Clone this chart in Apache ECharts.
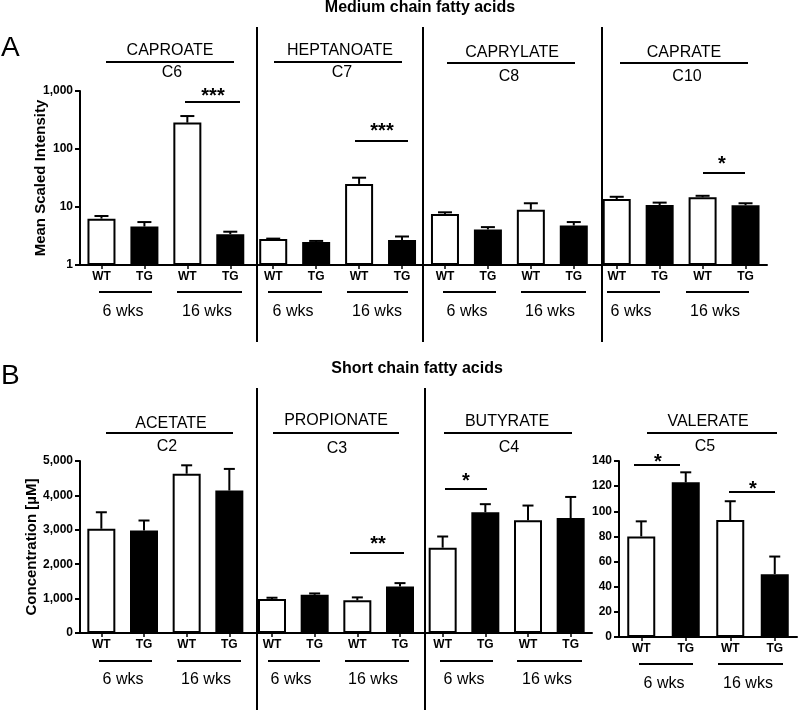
<!DOCTYPE html>
<html><head><meta charset="utf-8">
<script src="https://cdn.jsdelivr.net/npm/echarts@6/dist/echarts.min.js"></script>
<style>html,body{margin:0;padding:0;background:#fff}#c{width:800px;height:712px}</style>
</head><body><div id="c"></div>
<script>
// ---------- DATA ----------
// Panel A: medium chain fatty acids (C6, C7, C8, C10), each WT/TG at 6 wks and 16 wks
const catsA = ['WT','TG','WT','TG','WT','TG','WT','TG','WT','TG','WT','TG','WT','TG','WT','TG'];
const meanA = [6.3, 4.6, 285, 3.4, 2.8, 2.5, 25, 2.7, 7.6, 4.1, 9.0, 4.8, 13.7, 10.8, 14.7, 10.7];
const upperA = [7.0, 5.5, 370, 3.75, 2.85, 2.6, 32, 3.1, 8.1, 4.5, 11.6, 5.5, 15.0, 11.9, 15.6, 11.6];
// Panel B: short chain fatty acids (C2, C3, C4)
const catsB = ['WT','TG','WT','TG','WT','TG','WT','TG','WT','TG','WT','TG'];
const meanB = [3030, 2980, 4630, 4140, 990, 1110, 950, 1350, 2480, 3510, 3280, 3340];
const upperB = [3510, 3270, 4875, 4770, 1025, 1150, 1035, 1450, 2805, 3745, 3705, 3955];
// Panel B: valerate (C5)
const catsC5 = ['WT','TG','WT','TG'];
const meanC5 = [80, 123, 93, 50];
const upperC5 = [92, 131, 108, 64];

// ---------- LAYOUT (decorations) ----------
const FONT = 'Liberation Sans, Arial, sans-serif';
const headers = [
  {name:'CAPROATE', code:'C6', nx:170, ny:51, x1:106, x2:234, ly:62, cx:172, cy:73},
  {name:'HEPTANOATE', code:'C7', nx:340, ny:51, x1:274, x2:402, ly:62, cx:342, cy:73},
  {name:'CAPRYLATE', code:'C8', nx:512, ny:53, x1:447, x2:575, ly:63, cx:509, cy:77},
  {name:'CAPRATE', code:'C10', nx:684, ny:53, x1:620, x2:748, ly:63, cx:687, cy:77},
  {name:'ACETATE', code:'C2', nx:171, ny:424, x1:106, x2:233, ly:433, cx:167, cy:447},
  {name:'PROPIONATE', code:'C3', nx:336, ny:421, x1:273, x2:399, ly:433, cx:337, cy:449},
  {name:'BUTYRATE', code:'C4', nx:507, ny:422, x1:444, x2:572, ly:433, cx:509, cy:448},
  {name:'VALERATE', code:'C5', nx:708, ny:422, x1:647, x2:777, ly:433, cx:705, cy:447}
];
const ageLabels = ['6 wks','16 wks'];
const ageGroups = [
  // [x1, x2, lineY, textX, textY]
  [99,152,292,123,312],[177,242,292,207,312],[268,322,292,293,312],[347,408,292,377,312],
  [443,496,292,467,312],[521,586,292,550,312],[607,660,292,631,312],[686,749,292,715,312],
  [99,152,661,123,680],[177,241,661,206,680],[268,320,661,291,680],[345,409,661,373,680],
  [440,493,661,464,680],[517,582,661,547,680],[639,693,664,664,684],[718,783,664,748,684]
];
const sig = [
  // [stars, textX, textY, x1, x2, lineY]
  ['***',213,92,185,240,102],['***',382,127,355,408,141],['*',722,160,703,745,173],
  ['**',378,540,350,404,553],['*',466,477,445,487,489],['*',658,458,634,680,465],['*',753,485,729,775,492]
];
const separators = [[257,27,342],[423,27,342],[602,27,342],[257,388,710],[425,388,710]];
const axisNames = [['Mean Scaled Intensity', 41, 178], ['Concentration [µM]', 32, 547]];

// ---------- BUILD ----------
const colorOf = c => c === 'TG' ? '#000' : '#fff';
function barData(cats, vals){
  return vals.map((v,i)=>({value:v, itemStyle:{color:colorOf(cats[i]), borderColor:'#000', borderWidth:2}}));
}
function errSeries(idx, means, uppers, cap){
  return {
    type:'custom', xAxisIndex:idx, yAxisIndex:idx, z:1, silent:true,
    data: uppers.map((u,i)=>[i, means[i], u]),
    renderItem:(params, api)=>{
      const x = api.value(0);
      const p0 = api.coord([x, api.value(1)]);
      const p1 = api.coord([x, api.value(2)]);
      const st = {stroke:'#000', lineWidth:2};
      return {type:'group', children:[
        {type:'line', shape:{x1:p0[0], y1:p0[1], x2:p1[0], y2:p1[1]}, style:st},
        {type:'line', shape:{x1:p1[0]-cap/2, y1:p1[1], x2:p1[0]+cap/2, y2:p1[1]}, style:st}
      ]};
    }
  };
}
const commas = v => Math.round(v).toLocaleString('en-US');
const axisLineStyle = {show:true, lineStyle:{color:'#000', width:2}};
function xAxis(idx, cats){
  return {type:'category', gridIndex:idx, data:cats,
    axisLine:axisLineStyle,
    axisTick:{show:true, alignWithLabel:true, length:4, lineStyle:{color:'#000', width:1.5}},
    axisLabel:{color:'#000', fontWeight:'bold', fontSize:12, fontFamily:FONT, margin:6, interval:0}};
}
function yAxis(idx, extra){
  return Object.assign({gridIndex:idx,
    axisLine:axisLineStyle,
    axisTick:{show:true, length:5, lineStyle:{color:'#000', width:2}},
    splitLine:{show:false},
    axisLabel:{color:'#000', fontWeight:'bold', fontSize:12, fontFamily:FONT, margin:7, formatter:commas}
  }, extra);
}

const graphic = [];
const txt = (text, x, y, size, weight, align, rot) => graphic.push({type:'text', x, y, rotation:rot||0, silent:true,
  style:{text, fill:'#000', font:(weight||'normal')+' '+size+'px '+FONT, textAlign:align||'center', textVerticalAlign:'middle'}});
const ln = (x1,y1,x2,y2) => graphic.push({type:'line', silent:true, shape:{x1,y1,x2,y2}, style:{stroke:'#000', lineWidth:2}});

txt('Medium chain fatty acids', 420, 8, 16, 'bold');
txt('Short chain fatty acids', 417, 369, 16, 'bold');
txt('A', 1, 48, 28, 'normal', 'left');
txt('B', 1, 376, 28, 'normal', 'left');
axisNames.forEach(a => txt(a[0], a[1], a[2], 15, 'bold', 'center', Math.PI/2));
separators.forEach(s => ln(s[0], s[1], s[0], s[2]));
headers.forEach(h => { txt(h.name, h.nx, h.ny, 16); ln(h.x1, h.ly, h.x2, h.ly); txt(h.code, h.cx, h.cy, 16); });
ageGroups.forEach((g,i) => { ln(g[0], g[2], g[1], g[2]); txt(ageLabels[i%2], g[3], g[4], 16); });
sig.forEach(s => { txt(s[0], s[1], s[2]+4, 20, 'bold'); ln(s[3], s[5], s[4], s[5]); });

const chart = echarts.init(document.getElementById('c'), null, {renderer:'canvas'});
chart.setOption({
  animation:false,
  backgroundColor:'#fff',
  grid:[
    {left:80, top:91, width:687, height:174},
    {left:80, top:461, width:512, height:172},
    {left:619, top:461, width:178, height:176}
  ],
  xAxis:[xAxis(0, catsA), xAxis(1, catsB), xAxis(2, catsC5)],
  yAxis:[
    yAxis(0, {type:'log', logBase:10, min:1, max:1000}),
    yAxis(1, {type:'value', min:0, max:5000, interval:1000}),
    yAxis(2, {type:'value', min:0, max:140, interval:20})
  ],
  series:[
    errSeries(0, meanA, upperA, 14),
    errSeries(1, meanB, upperB, 11),
    errSeries(2, meanC5, upperC5, 11),
    {type:'bar', xAxisIndex:0, yAxisIndex:0, barWidth:28, z:2, data:barData(catsA, meanA)},
    {type:'bar', xAxisIndex:1, yAxisIndex:1, barWidth:28, z:2, data:barData(catsB, meanB)},
    {type:'bar', xAxisIndex:2, yAxisIndex:2, barWidth:28, z:2, data:barData(catsC5, meanC5)}
  ],
  graphic: graphic
});
</script></body></html>
